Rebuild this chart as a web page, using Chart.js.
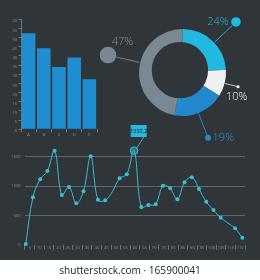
<!DOCTYPE html>
<html>
<head>
<meta charset="utf-8">
<script src="https://cdn.jsdelivr.net/npm/chart.js@4/dist/chart.umd.min.js"></script>
<style>
  html,body{margin:0;padding:0;}
  body{width:260px;height:280px;background:#ffffff;position:relative;overflow:hidden;font-family:"Open Sans",sans-serif;}
  #panel{position:absolute;left:0;top:0;width:260px;height:259.5px;background:#2f3539;}
  canvas{position:absolute;}
  #wm{position:absolute;left:0;top:263px;width:260px;text-align:center;font-family:"Open Sans",sans-serif;font-size:10.1px;line-height:14px;color:#222;}
</style>
</head>
<body>
<div id="panel"></div>
<canvas id="bar" width="110" height="140" style="left:0;top:0;width:110px;height:140px"></canvas>
<canvas id="donut" width="160" height="150" style="left:100px;top:0;width:160px;height:150px"></canvas>
<canvas id="line" width="260" height="145" style="left:0;top:115px;width:260px;height:145px"></canvas>
<div id="wm">shutterstock.com · 165900041</div>
<script>
// ---------- data ----------
const barCategories = ['A', 'B', 'C', 'D', 'E'];
const barValues = [52.4, 44.2, 34, 39.1, 27.3];

const donutLabels = ['24%', '10%', '19%', '47%'];
const donutValues = [24, 10, 19, 47];

const lineValues = [10, 808, 1115, 1257, 1603, 847, 984, 706, 910, 1507, 767, 757, 904, 1132, 1200,
                    1603, 643, 677, 689, 1006, 962, 774, 1064, 1149, 950, 733, 592, 460, 370, 280, 119];
const lineUnmarked = [12, 28];
const lineXTickLabels = ['5','10','15','20','25','30','35','40','45','50','55','60','65','70','75',
                         '80','85','90','95','100','105','110','115'];
const lineYTicks = [0, 500, 1000, 1500];
const highlightIndex = 15;
const highlightText = '1532,2';

// ---------- styles ----------
const BG = '#2f3539';
const AXIS = '#6b747a';
const TICKTXT = '#8b949a';
const BLUE = '#1f8fd2';
const CYAN = '#3bbdd5';
const donutColors = ['#1fb9e2', '#f0f0f0', '#2189cc', '#7a8894'];
const donutTextColors = ['#2bb5dd', '#ffffff', '#2a8fd0', '#8796a0'];
const donutLineColors = ['#2bb5dd', '#d5d9dc', '#2a8fd0', '#7b8790'];
// hole of the ring: radius and offset from the ring centre
const HOLE = {r: 28.2, dx: -2.6, dy: -2.4};
// callout geometry relative to donut centre (angle clockwise from top, distance, dot radius, label offset)
const callouts = [
  {ang: 46.6, dist: 73.6, r: 4.8, lx: 35.5, ly: -50.5},
  {ang: 104.4, dist: 57.3, r: 1.6, lx: 54.2, ly: 24.2},
  {ang: 158.6, dist: 70.0, r: 3.0, lx: 40.8, ly: 65.2},
  {ang: 283.2, dist: 76.5, r: 8.3, lx: -60, ly: -30.5}
];

Chart.defaults.font.family = '"Open Sans", sans-serif';
Chart.defaults.animation = false;

// ---------- bar chart ----------
new Chart(document.getElementById('bar'), {
  type: 'bar',
  data: {labels: barCategories, datasets: [{data: barValues, backgroundColor: BLUE, borderWidth: 0,
         categoryPercentage: 1, barPercentage: 0.89}]},
  options: {
    responsive: false, devicePixelRatio: 1,
    layout: {padding: {top: 19.3, right: 13, left: 0, bottom: 0}},
    plugins: {legend: {display: false}, tooltip: {enabled: false}},
    scales: {
      x: {
        offset: true,
        grid: {display: true, drawOnChartArea: false, offset: true, color: AXIS, tickLength: 3},
        border: {display: false},
        ticks: {color: TICKTXT, font: {size: 4}, padding: 0, maxRotation: 0, autoSkip: false},
        afterFit: s => { s.height = 10.7; }
      },
      y: {
        min: 0, max: 60,
        grid: {display: true, drawOnChartArea: false, color: AXIS, tickLength: 2.5},
        border: {display: true, color: AXIS, width: 1},
        ticks: {stepSize: 5, color: TICKTXT, font: {size: 4}, padding: 1.5, labelOffset: 2},
        afterFit: s => { s.width = 21; }
      }
    }
  }
});

// ---------- doughnut ----------
const holePlugin = {
  id: 'hole',
  afterDatasetsDraw(chart) {
    const ctx = chart.ctx;
    const a = chart.getDatasetMeta(0).data[0];
    ctx.save();
    ctx.fillStyle = BG;
    ctx.beginPath();
    ctx.arc(a.x + HOLE.dx, a.y + HOLE.dy, HOLE.r, 0, Math.PI * 2);
    ctx.fill();
    ctx.restore();
  }
};
const calloutPlugin = {
  id: 'callouts',
  afterDraw(chart) {
    const ctx = chart.ctx;
    const arcs = chart.getDatasetMeta(0).data;
    const cx = arcs[0].x, cy = arcs[0].y, R = arcs[0].outerRadius;
    ctx.save();
    callouts.forEach((c, i) => {
      const a = c.ang * Math.PI / 180;
      const dx = Math.sin(a), dy = -Math.cos(a);
      const dotX = cx + dx * c.dist, dotY = cy + dy * c.dist;
      ctx.strokeStyle = donutLineColors[i];
      ctx.lineWidth = 0.9;
      ctx.beginPath();
      ctx.moveTo(cx + dx * (R + 0.5), cy + dy * (R + 0.5));
      ctx.lineTo(dotX - dx * c.r, dotY - dy * c.r);
      ctx.stroke();
      ctx.fillStyle = i === 3 ? '#7b8790' : donutColors[i];
      if (i === 1) ctx.fillStyle = '#ffffff';
      ctx.beginPath();
      ctx.arc(dotX, dotY, c.r, 0, Math.PI * 2);
      ctx.fill();
      ctx.fillStyle = donutTextColors[i];
      ctx.font = '300 11px "Open Sans", sans-serif';
      ctx.textAlign = 'center';
      ctx.textBaseline = 'middle';
      ctx.fillText(donutLabels[i], cx + c.lx, cy + c.ly);
    });
    ctx.restore();
  }
};
new Chart(document.getElementById('donut'), {
  type: 'doughnut',
  data: {labels: donutLabels, datasets: [{data: donutValues, backgroundColor: donutColors, borderWidth: 0}]},
  options: {
    responsive: false, devicePixelRatio: 1,
    cutout: '40%',
    layout: {padding: {left: 39, right: 34, top: 29, bottom: 34}},
    plugins: {legend: {display: false}, tooltip: {enabled: false}}
  },
  plugins: [holePlugin, calloutPlugin]
});

// ---------- line chart ----------
const highlightPlugin = {
  id: 'highlight',
  afterDatasetsDraw(chart) {
    const ctx = chart.ctx;
    const p = chart.getDatasetMeta(0).data[highlightIndex];
    const bx = p.x - 3.3, by = p.y - 25.7, bw = 16, bh = 12;
    ctx.save();
    ctx.strokeStyle = CYAN;
    ctx.lineWidth = 0.9;
    ctx.beginPath();
    ctx.moveTo(p.x + 3, p.y - 3);
    ctx.lineTo(bx + 13, by + bh);
    ctx.stroke();
    ctx.fillStyle = '#27b8e0';
    ctx.fillRect(bx, by, bw, bh);
    ctx.fillStyle = '#15303c';
    ctx.font = '600 5.5px "Open Sans", sans-serif';
    ctx.textAlign = 'center';
    ctx.textBaseline = 'middle';
    ctx.fillText(highlightText, bx + bw / 2, by + bh / 2 + 0.3);
    ctx.restore();
  }
};
const linePoints = lineValues.map((v, i) => ({x: i, y: v}));
new Chart(document.getElementById('line'), {
  type: 'line',
  data: {datasets: [{
    data: linePoints, xAxisID: 'xd',
    borderColor: CYAN, borderWidth: 1, tension: 0.4, clip: false,
    pointBackgroundColor: lineValues.map((v, i) => i === highlightIndex ? 'rgba(59,189,213,0.45)' : CYAN),
    pointBorderColor: CYAN,
    pointBorderWidth: lineValues.map((v, i) => i === highlightIndex ? 1 : 0),
    pointRadius: lineValues.map((v, i) => lineUnmarked.includes(i) ? 0 : (i === highlightIndex ? 3.8 : 2))
  }]},
  options: {
    responsive: false, devicePixelRatio: 1,
    layout: {padding: {top: 30, right: 15, left: 0, bottom: 0}},
    plugins: {legend: {display: false}, tooltip: {enabled: false}},
    scales: {
      xd: {type: 'linear', display: false, min: -0.1, max: 30.37},
      x: {
        type: 'category', labels: lineXTickLabels, offset: true, position: 'bottom',
        grid: {display: true, drawOnChartArea: false, offset: true, color: AXIS, tickLength: 5},
        border: {display: false},
        ticks: {color: TICKTXT, font: {size: 4}, padding: -4, maxRotation: 0, autoSkip: false},
        afterFit: s => { s.height = 15.3; }
      },
      y: {
        min: 0, max: 1700,
        afterBuildTicks: s => { s.ticks = lineYTicks.map(v => ({value: v})); },
        grid: {color: ctx => ctx.tick && ctx.tick.value === 0 ? 'rgba(0,0,0,0)' : '#5f676d', drawTicks: false, lineWidth: 1},
        border: {display: false},
        ticks: {color: TICKTXT, font: {size: 4}, padding: 4.5, callback: v => String(v)},
        afterFit: s => { s.width = 25; }
      }
    }
  },
  plugins: [highlightPlugin]
});
</script>
</body>
</html>
